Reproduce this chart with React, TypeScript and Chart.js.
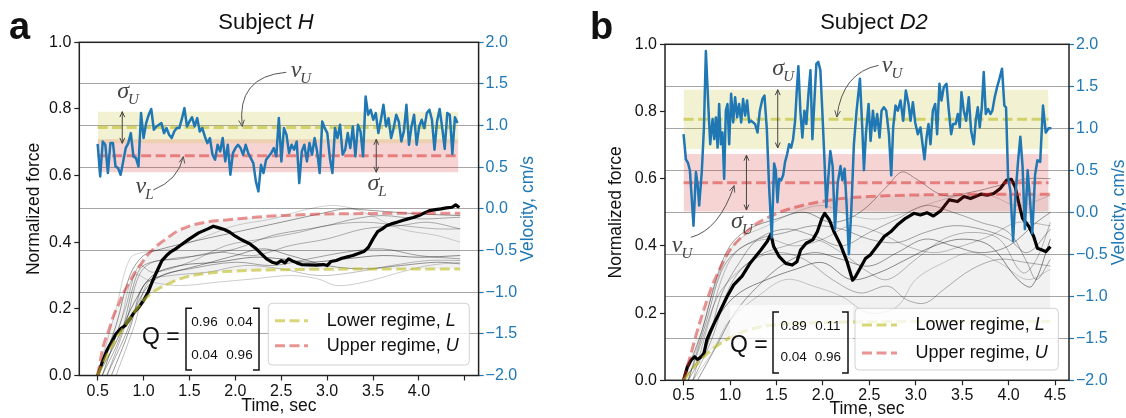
import React, { useEffect, useRef } from 'react';
import { Chart, registerables } from 'chart.js';

Chart.register(...registerables);

const FONT = '"Liberation Sans", Arial, Helvetica, sans-serif';
const SERIF = '"Liberation Serif", "DejaVu Serif", serif';
const BLUE = '#1f77b4';
const OLIVE_LINE = 'rgba(188,189,34,0.6)';
const OLIVE_BAND = 'rgba(188,189,34,0.2)';
const RED_LINE = 'rgba(214,39,40,0.5)';
const RED_BAND = 'rgba(214,39,40,0.2)';
const GREY_FILL = 'rgba(0,0,0,0.055)';

// ---------------- ticks ----------------
const timeTicks = [0.5, 1.0, 1.5, 2.0, 2.5, 3.0, 3.5, 4.0, 4.5];
const timeTickLabelsA = ['0.5', '1.0', '1.5', '2.0', '2.5', '3.0', '3.5', '4.0', ''];
const timeTickLabelsB = ['0.5', '1.0', '1.5', '2.0', '2.5', '3.0', '3.5', '4.0', '4.5'];
const forceTicks = [0, 0.2, 0.4, 0.6, 0.8, 1.0];
const forceTickLabels = ['0.0', '0.2', '0.4', '0.6', '0.8', '1.0'];
const velTicks = [-2, -1.5, -1, -0.5, 0, 0.5, 1, 1.5, 2];
const velTickLabels = ['\u22122.0', '\u22121.5', '\u22121.0', '\u22120.5', '0.0', '0.5', '1.0', '1.5', '2.0'];

// ---------------- text ----------------
const titlesText = ['Subject ', 'Subject '];
const titlesItalic = ['H', 'D2'];
const panelLetters = ['a', 'b'];
const legendLabels = ['Lower regime, ', 'Upper regime, '];
const legendItalic = ['L', 'U'];
const qMatrixA = [['0.96', '0.04'], ['0.04', '0.96']];
const qMatrixB = [['0.89', '0.11'], ['0.04', '0.96']];

// ---------------- panel a : Subject H ----------------
const bandSpanA = [0.5, 4.43];
const oliveVelA = [0.977, 0.19]; // mean, sigma (cm/s)
const redVelA = [0.637, 0.198];
const velStartA = 0.5;
const velStepA = 0.0278;
const velocityA = [
  0.78, 0.39, 0.81, 0.77, 0.43, 0.79, 0.79, 0.51, 0.49, 0.41,
  0.57, 0.73, 0.79, 0.91, 0.63, 0.61, 0.51, 1.15, 0.85, 1.03,
  1.13, 1.20, 0.95, 0.99, 1.01, 1.03, 0.91, 0.97, 0.89, 0.85,
  0.93, 0.97, 0.97, 1.08, 1.21, 0.99, 1.05, 1.10, 0.99, 1.09,
  0.93, 0.97, 0.87, 0.79, 0.85, 0.65, 0.59, 0.77, 0.69, 0.85,
  0.57, 0.77, 0.41, 0.67, 0.73, 0.77, 0.73, 0.65, 0.77, 0.67,
  0.61, 0.55, 0.33, 0.21, 0.53, 0.43, 0.59, 0.63, 0.67, 0.73,
  0.63, 1.09, 0.57, 0.97, 0.89, 0.67, 0.77, 0.71, 0.81, 0.31,
  0.69, 0.77, 0.57, 0.79, 0.65, 0.85, 0.69, 0.43, 1.05, 0.97,
  0.91, 0.61, 0.43, 0.97, 0.85, 1.01, 0.65, 0.71, 0.91, 0.73,
  0.99, 0.63, 1.01, 0.93, 0.63, 1.35, 1.13, 1.19, 1.07, 1.15,
  0.91, 1.07, 1.25, 0.99, 1.09, 0.85, 0.97, 1.13, 1.05, 0.81,
  0.93, 1.25, 0.77, 0.99, 1.13, 0.77, 0.99, 1.07, 0.97, 1.15,
  1.19, 1.07, 0.71, 1.05, 1.20, 0.98, 0.72, 1.15, 1.13, 0.66,
  1.10, 1.03,
];
const upperForceA = [[0.5, 0], [0.56, 0.087], [0.62, 0.135], [0.67, 0.177], [0.73, 0.215], [0.78, 0.247], [0.84, 0.277], [0.89, 0.302], [0.96, 0.33], [1.03, 0.357], [1.1, 0.378], [1.18, 0.397], [1.27, 0.415], [1.36, 0.432], [1.45, 0.443], [1.54, 0.452], [1.7, 0.461], [1.9, 0.467], [2.1, 0.472], [2.3, 0.477], [2.6, 0.481], [3.0, 0.485], [3.4, 0.486], [3.8, 0.487], [4.2, 0.487], [4.45, 0.487]];
const lowerForceA = [[0.5, 0], [0.6, 0.06], [0.7, 0.11], [0.8, 0.15], [0.9, 0.19], [1.0, 0.225], [1.1, 0.25], [1.2, 0.266], [1.3, 0.279], [1.4, 0.29], [1.5, 0.298], [1.7, 0.307], [1.9, 0.312], [2.2, 0.316], [2.6, 0.318], [3.0, 0.319], [4.45, 0.32]];
const blackForceA = [[0.5, 0], [0.55, 0.04], [0.6, 0.075], [0.65, 0.1], [0.7, 0.125], [0.75, 0.14], [0.8, 0.15], [0.85, 0.17], [0.9, 0.19], [0.95, 0.205], [1.0, 0.225], [1.05, 0.25], [1.1, 0.285], [1.15, 0.315], [1.2, 0.345], [1.25, 0.36], [1.3, 0.372], [1.35, 0.38], [1.4, 0.39], [1.5, 0.41], [1.6, 0.428], [1.7, 0.44], [1.76, 0.448], [1.82, 0.443], [1.88, 0.438], [1.94, 0.43], [2.0, 0.418], [2.05, 0.41], [2.1, 0.403], [2.16, 0.395], [2.22, 0.382], [2.28, 0.366], [2.34, 0.35], [2.4, 0.34], [2.45, 0.336], [2.5, 0.345], [2.54, 0.338], [2.58, 0.35], [2.62, 0.344], [2.67, 0.338], [2.72, 0.333], [2.8, 0.332], [2.88, 0.331], [2.96, 0.333], [3.0, 0.33], [3.04, 0.342], [3.1, 0.345], [3.16, 0.352], [3.22, 0.356], [3.28, 0.36], [3.34, 0.366], [3.4, 0.372], [3.45, 0.385], [3.5, 0.41], [3.55, 0.432], [3.6, 0.44], [3.65, 0.45], [3.7, 0.455], [3.76, 0.46], [3.82, 0.465], [3.88, 0.47], [3.94, 0.474], [4.0, 0.48], [4.06, 0.488], [4.12, 0.495], [4.18, 0.498], [4.24, 0.5], [4.3, 0.503], [4.36, 0.505], [4.4, 0.512], [4.44, 0.504]];
const greyTracesA = [
  [[0.5, 0], [0.7, 0.15], [0.85, 0.3], [1.0, 0.36], [1.2, 0.38], [1.5, 0.4], [2.0, 0.43], [2.5, 0.46], [3.0, 0.49], [3.2, 0.5], [3.5, 0.495], [4.0, 0.485], [4.45, 0.48]],
  [[0.55, 0], [0.75, 0.12], [0.9, 0.28], [1.0, 0.33], [1.3, 0.35], [1.6, 0.36], [2.0, 0.38], [2.4, 0.42], [2.8, 0.44], [3.0, 0.45], [3.3, 0.47], [3.6, 0.48], [4.0, 0.47], [4.45, 0.475]],
  [[0.6, 0], [0.8, 0.15], [0.95, 0.3], [1.1, 0.34], [1.4, 0.35], [1.8, 0.37], [2.2, 0.36], [2.6, 0.39], [3.0, 0.41], [3.4, 0.44], [3.8, 0.45], [4.1, 0.46], [4.45, 0.44]],
  [[0.5, 0], [0.7, 0.1], [0.9, 0.22], [1.1, 0.3], [1.4, 0.33], [1.8, 0.34], [2.2, 0.355], [2.5, 0.35], [2.8, 0.34], [3.2, 0.35], [3.6, 0.36], [4.0, 0.355], [4.45, 0.36]],
  [[0.6, 0], [0.8, 0.12], [1.0, 0.25], [1.2, 0.3], [1.5, 0.32], [2.0, 0.34], [2.4, 0.33], [2.8, 0.35], [3.2, 0.37], [3.6, 0.38], [4.0, 0.36], [4.45, 0.35]],
  [[0.55, 0], [0.75, 0.16], [0.9, 0.3], [1.1, 0.28], [1.4, 0.27], [1.8, 0.28], [2.2, 0.29], [2.6, 0.3], [2.9, 0.29], [3.1, 0.27], [3.4, 0.28], [3.8, 0.31], [4.1, 0.33], [4.45, 0.34]],
  [[0.5, 0], [0.7, 0.2], [0.85, 0.35], [1.0, 0.37], [1.3, 0.38], [1.7, 0.42], [2.0, 0.45], [2.4, 0.47], [2.8, 0.5], [3.1, 0.51], [3.4, 0.49], [3.8, 0.44], [4.2, 0.42], [4.45, 0.4]],
  [[0.65, 0], [0.85, 0.14], [1.0, 0.27], [1.2, 0.3], [1.6, 0.33], [2.0, 0.36], [2.3, 0.38], [2.6, 0.36], [3.0, 0.33], [3.4, 0.32], [3.8, 0.33], [4.2, 0.34], [4.45, 0.335]],
  [[0.55, 0], [0.8, 0.2], [0.95, 0.33], [1.1, 0.31], [1.5, 0.34], [1.9, 0.39], [2.3, 0.41], [2.7, 0.43], [3.0, 0.45], [3.4, 0.46], [3.8, 0.45], [4.2, 0.44], [4.45, 0.44]],
  [[0.7, 0], [0.9, 0.15], [1.05, 0.28], [1.3, 0.3], [1.7, 0.31], [2.1, 0.33], [2.5, 0.32], [2.9, 0.3], [3.3, 0.31], [3.7, 0.33], [4.1, 0.345], [4.45, 0.345]],
];

// ---------------- panel b : Subject D2 ----------------
const bandSpanB = [0.5, 4.43];
const oliveVelB = [1.107, 0.353];
const redVelB = [0.352, 0.343];
const velTimeB = [
  0.5, 0.525, 0.547, 0.568, 0.607, 0.633, 0.65, 0.668, 0.697, 0.719,
  0.74, 0.769, 0.787, 0.812, 0.83, 0.848, 0.866, 0.883, 0.901, 0.919,
  0.937, 0.955, 0.973, 0.991, 1.012, 1.034, 1.055, 1.077, 1.098, 1.12,
  1.141, 1.163, 1.184, 1.206, 1.227, 1.249, 1.27, 1.296, 1.321, 1.349,
  1.371, 1.396, 1.421, 1.45, 1.475, 1.493, 1.511, 1.529, 1.55, 1.572,
  1.593, 1.615, 1.636, 1.658, 1.679, 1.701, 1.719, 1.736, 1.758, 1.779,
  1.801, 1.822, 1.844, 1.866, 1.887, 1.908, 1.93, 1.951, 1.973, 1.994,
  2.016, 2.037, 2.059, 2.08, 2.105, 2.13, 2.16, 2.19, 2.21, 2.234,
  2.255, 2.28, 2.306, 2.334, 2.363, 2.399, 2.424, 2.442, 2.463, 2.492,
  2.514, 2.539, 2.56, 2.585, 2.61, 2.632, 2.657, 2.682, 2.711, 2.736,
  2.757, 2.782, 2.807, 2.836, 2.865, 2.893, 2.922, 2.944, 2.969, 2.994,
  3.022, 3.051, 3.073, 3.094, 3.116, 3.137, 3.159, 3.184, 3.209, 3.23,
  3.255, 3.277, 3.302, 3.331, 3.356, 3.381, 3.402, 3.428, 3.453, 3.474,
  3.492, 3.517, 3.542, 3.571, 3.596, 3.625, 3.646, 3.668, 3.689, 3.711,
  3.732, 3.754, 3.779, 3.804, 3.825, 3.85, 3.876, 3.901, 3.929, 3.954,
  3.972, 3.994, 4.019, 4.048, 4.073, 4.101, 4.126, 4.15, 4.175, 4.205,
  4.23, 4.255, 4.285, 4.31, 4.34, 4.37, 4.4, 4.43, 4.46,
];
const velocityB = [
  0.93, 0.63, 0.59, 0.50, -0.16, 0.48, 0.34, 0.08, 0.50, 1.00,
  1.92, 1.21, 0.81, 1.11, 0.87, 1.13, 0.77, 1.29, 0.81, 0.95,
  0.40, 1.21, 1.29, 0.81, 1.41, 1.07, 1.37, 1.13, 1.29, 1.07,
  1.35, 1.15, 1.33, 1.07, 1.09, 1.07, 1.05, 0.95, 1.21, 1.35,
  1.39, 1.00, 0.30, -0.30, 0.58, 0.50, 0.12, 0.40, 0.38, 0.44,
  0.60, 0.69, 0.81, 0.77, 0.87, 1.09, 1.45, 1.74, 1.20, 0.89,
  1.21, 1.05, 1.40, 1.69, 0.87, 1.31, 1.77, 1.79, 1.69, 1.20,
  0.65, 0.06, 0.42, 0.73, 0.55, -0.20, 0.35, 0.55, 0.38, 0.52,
  0.10, -0.50, 0.02, 0.81, 1.21, 1.59, 1.01, 0.50, 0.93, 1.29,
  0.85, 1.21, 0.97, 1.17, 0.89, 1.21, 1.25, 1.21, 0.93, 0.44,
  1.01, 1.27, 1.21, 1.33, 1.09, 1.45, 1.29, 1.09, 1.31, 1.07,
  0.93, 1.01, 0.81, 0.63, 0.89, 1.05, 0.81, 1.21, 1.29, 0.93,
  1.53, 1.33, 1.49, 1.53, 1.21, 0.93, 1.05, 1.05, 1.17, 1.01,
  1.43, 1.21, 1.09, 1.37, 0.97, 0.81, 1.09, 1.25, 1.01, 1.25,
  1.67, 1.17, 1.23, 1.17, 1.21, 1.37, 1.49, 1.59, 1.71, 1.27,
  1.25, 0.42, 0.25, -0.34, 0.20, 0.60, 0.90, 0.55, -0.20, 0.50,
  0.15, -0.25, 0.45, 0.62, 0.60, 1.27, 0.95, 1.00, 1.00,
];
const upperForceB = [[0.5, 0], [0.55, 0.05], [0.6, 0.1], [0.65, 0.15], [0.7, 0.195], [0.76, 0.245], [0.82, 0.29], [0.87, 0.32], [0.93, 0.355], [0.98, 0.38], [1.05, 0.405], [1.12, 0.425], [1.2, 0.447], [1.28, 0.465], [1.36, 0.478], [1.45, 0.49], [1.55, 0.502], [1.7, 0.515], [1.85, 0.525], [2.0, 0.533], [2.2, 0.541], [2.5, 0.547], [2.9, 0.551], [3.4, 0.553], [3.9, 0.554], [4.45, 0.554]];
const lowerForceB = [[0.5, 0], [0.6, 0.035], [0.7, 0.065], [0.8, 0.09], [0.9, 0.11], [1.0, 0.127], [1.1, 0.14], [1.2, 0.15], [1.35, 0.16], [1.5, 0.165], [1.7, 0.169], [2.0, 0.172], [2.5, 0.174], [3.0, 0.175], [4.45, 0.175]];
const blackForceB = [[0.5, 0], [0.54, 0.04], [0.58, 0.06], [0.62, 0.07], [0.65, 0.062], [0.69, 0.07], [0.72, 0.08], [0.75, 0.12], [0.78, 0.14], [0.83, 0.17], [0.9, 0.21], [0.97, 0.25], [1.04, 0.284], [1.13, 0.31], [1.22, 0.35], [1.33, 0.387], [1.4, 0.413], [1.44, 0.435], [1.47, 0.398], [1.53, 0.368], [1.6, 0.348], [1.67, 0.343], [1.72, 0.353], [1.76, 0.388], [1.82, 0.408], [1.89, 0.418], [1.94, 0.442], [1.99, 0.482], [2.02, 0.497], [2.07, 0.477], [2.12, 0.442], [2.19, 0.403], [2.26, 0.353], [2.32, 0.298], [2.35, 0.308], [2.41, 0.338], [2.46, 0.363], [2.51, 0.373], [2.58, 0.398], [2.66, 0.428], [2.73, 0.442], [2.8, 0.462], [2.89, 0.482], [2.98, 0.497], [3.05, 0.492], [3.12, 0.499], [3.19, 0.489], [3.27, 0.505], [3.36, 0.537], [3.45, 0.532], [3.52, 0.547], [3.59, 0.541], [3.7, 0.554], [3.77, 0.551], [3.84, 0.556], [3.91, 0.571], [3.98, 0.596], [4.03, 0.598], [4.07, 0.576], [4.11, 0.527], [4.15, 0.482], [4.22, 0.457], [4.27, 0.428], [4.31, 0.393], [4.36, 0.388], [4.4, 0.383], [4.45, 0.398]];
const greyTracesB = [
  [[0.5, 0], [0.7, 0.15], [0.85, 0.3], [1.0, 0.4], [1.2, 0.45], [1.5, 0.48], [1.8, 0.5], [2.1, 0.47], [2.4, 0.5], [2.7, 0.58], [2.85, 0.62], [3.0, 0.6], [3.3, 0.55], [3.6, 0.56], [3.9, 0.58], [4.2, 0.6], [4.45, 0.6]],
  [[0.55, 0], [0.75, 0.1], [0.9, 0.25], [1.1, 0.35], [1.3, 0.42], [1.6, 0.45], [1.9, 0.43], [2.2, 0.4], [2.5, 0.44], [2.8, 0.48], [3.1, 0.52], [3.4, 0.5], [3.7, 0.47], [4.0, 0.44], [4.2, 0.35], [4.3, 0.3], [4.45, 0.36]],
  [[0.6, 0], [0.8, 0.12], [1.0, 0.28], [1.2, 0.35], [1.5, 0.38], [1.8, 0.36], [2.1, 0.3], [2.4, 0.26], [2.7, 0.28], [2.9, 0.24], [3.1, 0.23], [3.3, 0.27], [3.6, 0.33], [3.9, 0.36], [4.2, 0.35], [4.45, 0.34]],
  [[0.5, 0], [0.7, 0.08], [0.9, 0.2], [1.1, 0.26], [1.4, 0.3], [1.7, 0.33], [2.0, 0.35], [2.3, 0.3], [2.6, 0.32], [2.9, 0.36], [3.2, 0.4], [3.5, 0.42], [3.8, 0.4], [4.1, 0.3], [4.25, 0.28], [4.45, 0.42]],
  [[0.55, 0], [0.75, 0.18], [0.9, 0.32], [1.05, 0.38], [1.3, 0.42], [1.6, 0.44], [1.9, 0.46], [2.2, 0.45], [2.5, 0.42], [2.8, 0.41], [3.1, 0.44], [3.4, 0.46], [3.7, 0.45], [4.0, 0.42], [4.2, 0.38], [4.45, 0.45]],
  [[0.6, 0], [0.8, 0.08], [1.0, 0.18], [1.3, 0.25], [1.6, 0.3], [1.9, 0.28], [2.2, 0.25], [2.5, 0.2], [2.8, 0.22], [3.0, 0.3], [3.3, 0.35], [3.6, 0.38], [3.9, 0.35], [4.2, 0.3], [4.45, 0.33]],
  [[0.5, 0], [0.65, 0.1], [0.8, 0.25], [0.95, 0.36], [1.1, 0.42], [1.4, 0.46], [1.7, 0.5], [2.0, 0.52], [2.3, 0.49], [2.6, 0.48], [2.9, 0.5], [3.2, 0.53], [3.5, 0.55], [3.8, 0.55], [4.1, 0.52], [4.45, 0.55]],
  [[0.65, 0], [0.85, 0.1], [1.05, 0.2], [1.3, 0.28], [1.6, 0.35], [1.9, 0.38], [2.2, 0.36], [2.5, 0.34], [2.8, 0.38], [3.1, 0.42], [3.4, 0.4], [3.7, 0.38], [4.0, 0.4], [4.3, 0.47], [4.45, 0.5]],
  [[0.55, 0], [0.7, 0.12], [0.85, 0.24], [1.0, 0.3], [1.3, 0.37], [1.6, 0.4], [1.9, 0.42], [2.2, 0.38], [2.5, 0.32], [2.7, 0.3], [3.0, 0.36], [3.3, 0.42], [3.6, 0.44], [3.9, 0.42], [4.15, 0.32], [4.3, 0.36], [4.45, 0.47]],
  [[0.6, 0], [0.8, 0.2], [0.95, 0.33], [1.1, 0.39], [1.4, 0.42], [1.7, 0.4], [2.0, 0.42], [2.3, 0.46], [2.6, 0.44], [2.9, 0.4], [3.2, 0.38], [3.5, 0.4], [3.8, 0.43], [4.1, 0.47], [4.45, 0.46]],
];

// ---------------- styles / layout (not data) ----------------
const greyAlphas = [0.4, 0.33, 0.3, 0.45, 0.35, 0.2, 0.18, 0.4, 0.28, 0.25];

type Note =
  | { kind: 'text'; t: number; v: number; main: string; sub: string }
  | { kind: 'double'; t: number; v0: number; v1: number }
  | { kind: 'curve'; from: number[]; ctrl: number[]; to: number[] };

const notesA: Note[] = [
  { kind: 'text', t: 0.837, v: 1.365, main: '\u03c3', sub: 'U' },
  { kind: 'double', t: 0.768, v0: 1.167, v1: 0.787 },
  { kind: 'text', t: 2.72, v: 1.615, main: '\u03bd', sub: 'U' },
  { kind: 'curve', from: [2.555, 1.64], ctrl: [2.01, 1.59], to: [2.075, 0.99] },
  { kind: 'text', t: 1.017, v: 0.227, main: '\u03bd', sub: 'L' },
  { kind: 'curve', from: [1.106, 0.227], ctrl: [1.379, 0.347], to: [1.433, 0.627] },
  { kind: 'text', t: 3.55, v: 0.257, main: '\u03c3', sub: 'L' },
  { kind: 'double', t: 3.535, v0: 0.835, v1: 0.44 },
];
const notesB: Note[] = [
  { kind: 'text', t: 1.578, v: 1.676, main: '\u03c3', sub: 'U' },
  { kind: 'double', t: 1.514, v0: 1.46, v1: 0.766 },
  { kind: 'text', t: 2.75, v: 1.71, main: '\u03bd', sub: 'U' },
  { kind: 'curve', from: [2.6, 1.75], ctrl: [2.21, 1.664], to: [2.15, 1.134] },
  { kind: 'double', t: 1.177, v0: 0.68, v1: 0.027 },
  { kind: 'text', t: 1.134, v: -0.157, main: '\u03c3', sub: 'U' },
  { kind: 'text', t: 0.489, v: -0.437, main: '\u03bd', sub: 'U' },
  { kind: 'curve', from: [0.578, -0.298], ctrl: [0.883, -0.21], to: [1.044, 0.317] },
];

interface PanelSpec {
  W: number; H: number; left: number; right: number; top: number; bottom: number;
  leftTitleCenter: number; bottomTitlePad: number; rightTitleX: number;
  tickLabels: string[];
  bandSpan: number[]; oliveVel: number[]; redVel: number[];
  velocity: { x: number; y: number }[];
  upperForce: number[][]; lowerForce: number[][]; blackForce: number[][]; greyTraces: number[][][];
  notes: Note[];
  legend: { box: number[]; lineX: number[]; rows: number[]; textX: number };
  q: { qx: number; qy: number; bracket: number[]; cols: number[]; rows: number[]; vals: string[][] };
  whiteBox?: number[];
}

const pairs = (arr: number[][]) => arr.map(([x, y]) => ({ x, y }));

function head(ctx: CanvasRenderingContext2D, x: number, y: number, ang: number, size = 7) {
  ctx.beginPath();
  ctx.moveTo(x - size * Math.cos(ang - 0.42), y - size * Math.sin(ang - 0.42));
  ctx.lineTo(x, y);
  ctx.lineTo(x - size * Math.cos(ang + 0.42), y - size * Math.sin(ang + 0.42));
  ctx.stroke();
}

function drawSym(ctx: CanvasRenderingContext2D, x: number, y: number, main: string, sub: string) {
  ctx.fillStyle = '#444';
  ctx.textBaseline = 'alphabetic';
  ctx.textAlign = 'left';
  ctx.font = `italic 24px ${SERIF}`;
  const w1 = ctx.measureText(main).width;
  ctx.font = `italic 15px ${SERIF}`;
  const w2 = ctx.measureText(sub).width;
  const x0 = x - (w1 + w2) / 2;
  ctx.font = `italic 24px ${SERIF}`;
  ctx.fillText(main, x0, y + 3);
  ctx.font = `italic 15px ${SERIF}`;
  ctx.fillText(sub, x0 + w1 - 1, y + 9);
}

function makeDecor(spec: PanelSpec, id: string) {
  return {
    id: 'decor' + id,
    afterDatasetsDraw(chart: any) {
      const ctx: CanvasRenderingContext2D = chart.ctx;
      const { left, right, top, bottom } = chart.chartArea;
      const xs = chart.scales.x;
      const ys = chart.scales.y1;
      const X = (t: number) => xs.getPixelForValue(t);
      const Y = (v: number) => ys.getPixelForValue(v);
      ctx.save();
      if (spec.whiteBox) {
        const [a, b, c, d] = spec.whiteBox;
        ctx.fillStyle = 'rgba(255,255,255,0.7)';
        ctx.fillRect(a, b, c - a, d - b);
      }
      // annotations
      ctx.strokeStyle = '#555';
      ctx.lineWidth = 1;
      for (const n of spec.notes) {
        if (n.kind === 'text') {
          drawSym(ctx, X(n.t), Y(n.v), n.main, n.sub);
        } else if (n.kind === 'double') {
          const x = X(n.t), y0 = Y(n.v0), y1 = Y(n.v1);
          ctx.strokeStyle = '#444';
          ctx.beginPath(); ctx.moveTo(x, y0); ctx.lineTo(x, y1); ctx.stroke();
          head(ctx, x, y0, -Math.PI / 2, 6);
          head(ctx, x, y1, Math.PI / 2, 6);
        } else {
          const x0 = X(n.from[0]), y0 = Y(n.from[1]);
          const cx = X(n.ctrl[0]), cy = Y(n.ctrl[1]);
          const x1 = X(n.to[0]), y1 = Y(n.to[1]);
          ctx.strokeStyle = '#555';
          ctx.beginPath(); ctx.moveTo(x0, y0); ctx.quadraticCurveTo(cx, cy, x1, y1); ctx.stroke();
          head(ctx, x1, y1, Math.atan2(y1 - cy, x1 - cx), 7);
        }
      }
      // Q matrix
      const q = spec.q;
      ctx.fillStyle = '#111';
      ctx.textBaseline = 'middle';
      ctx.textAlign = 'left';
      ctx.font = `23px ${FONT}`;
      ctx.fillText('Q =', q.qx, q.qy);
      const [bl, br, bt, bb] = q.bracket;
      ctx.strokeStyle = '#111';
      ctx.lineWidth = 1.5;
      ctx.beginPath();
      ctx.moveTo(bl + 6, bt); ctx.lineTo(bl, bt); ctx.lineTo(bl, bb); ctx.lineTo(bl + 6, bb);
      ctx.moveTo(br - 6, bt); ctx.lineTo(br, bt); ctx.lineTo(br, bb); ctx.lineTo(br - 6, bb);
      ctx.stroke();
      ctx.font = `13.5px ${FONT}`;
      ctx.textAlign = 'center';
      for (let r = 0; r < 2; r++) for (let c = 0; c < 2; c++) ctx.fillText(q.vals[r][c], q.cols[c], q.rows[r]);
      // legend
      const lg = spec.legend;
      const [lx0, ly0, lx1, ly1] = lg.box;
      ctx.beginPath();
      (ctx as any).roundRect(lx0, ly0, lx1 - lx0, ly1 - ly0, 4);
      ctx.fillStyle = 'rgba(255,255,255,0.8)';
      ctx.fill();
      ctx.strokeStyle = 'rgba(204,204,204,0.9)';
      ctx.lineWidth = 1;
      ctx.stroke();
      const lineCols = [OLIVE_LINE, RED_LINE];
      for (let i = 0; i < 2; i++) {
        ctx.save();
        ctx.strokeStyle = lineCols[i];
        ctx.lineWidth = 3;
        ctx.setLineDash([10, 4.5]);
        ctx.beginPath(); ctx.moveTo(lg.lineX[0], lg.rows[i]); ctx.lineTo(lg.lineX[1], lg.rows[i]); ctx.stroke();
        ctx.restore();
        ctx.fillStyle = '#111';
        ctx.textAlign = 'left';
        ctx.textBaseline = 'middle';
        ctx.font = `18px ${FONT}`;
        ctx.fillText(legendLabels[i], lg.textX, lg.rows[i]);
        const w = ctx.measureText(legendLabels[i]).width;
        ctx.font = `italic 18px ${FONT}`;
        ctx.fillText(legendItalic[i], lg.textX + w, lg.rows[i]);
      }
      // frame
      ctx.strokeStyle = '#222';
      ctx.lineWidth = 1.5;
      ctx.strokeRect(left, top, right - left, bottom - top);
      // right axis title
      ctx.save();
      ctx.translate(spec.rightTitleX, (top + bottom) / 2);
      ctx.rotate(-Math.PI / 2);
      ctx.fillStyle = BLUE;
      ctx.font = `17.5px ${FONT}`;
      ctx.textAlign = 'center';
      ctx.textBaseline = 'middle';
      ctx.fillText('Velocity, cm/s', 0, 0);
      ctx.restore();
      ctx.restore();
    },
  };
}

function makeConfig(spec: PanelSpec, id: string): any {
  const mono = { cubicInterpolationMode: 'monotone' };
  const datasets: any[] = [];
  // grey envelope between the two regime force curves
  datasets.push({ data: pairs(spec.upperForce), yAxisID: 'y', borderWidth: 0, borderColor: 'rgba(0,0,0,0)', fill: false, order: 100, ...mono });
  datasets.push({ data: pairs(spec.lowerForce), yAxisID: 'y', borderWidth: 0, borderColor: 'rgba(0,0,0,0)', fill: '-1', backgroundColor: GREY_FILL, order: 100, ...mono });
  spec.greyTraces.forEach((tr, i) => {
    datasets.push({ data: pairs(tr), yAxisID: 'y', borderColor: `rgba(0,0,0,${greyAlphas[i % greyAlphas.length]})`, borderWidth: 1, tension: 0.35, order: 90 });
  });
  datasets.push({ data: pairs(spec.blackForce), yAxisID: 'y', borderColor: '#000', borderWidth: 3.2, borderJoinStyle: 'round', order: 70 });
  datasets.push({ data: pairs(spec.lowerForce), yAxisID: 'y', borderColor: OLIVE_LINE, borderWidth: 3, borderDash: [10, 4.5], order: 60, ...mono });
  datasets.push({ data: pairs(spec.upperForce), yAxisID: 'y', borderColor: RED_LINE, borderWidth: 3, borderDash: [10, 4.5], order: 60, ...mono });
  const band = (mv: number[], color: string) => ({
    data: [{ x: spec.bandSpan[0], y: mv[0] + mv[1] }, { x: spec.bandSpan[1], y: mv[0] + mv[1] }],
    yAxisID: 'y1', borderWidth: 0, borderColor: 'rgba(0,0,0,0)', fill: { value: mv[0] - mv[1] }, backgroundColor: color, order: 50,
  });
  datasets.push(band(spec.oliveVel, OLIVE_BAND));
  datasets.push(band(spec.redVel, RED_BAND));
  const meanLine = (mv: number[], color: string) => ({
    data: [{ x: spec.bandSpan[0], y: mv[0] }, { x: spec.bandSpan[1], y: mv[0] }],
    yAxisID: 'y1', borderColor: color, borderWidth: 3, borderDash: [10, 4.5], order: 40,
  });
  datasets.push(meanLine(spec.oliveVel, OLIVE_LINE));
  datasets.push(meanLine(spec.redVel, RED_LINE));
  datasets.push({ data: spec.velocity, yAxisID: 'y1', borderColor: BLUE, borderWidth: 2.5, borderJoinStyle: 'round', order: 30 });

  const tickFont = { family: FONT, size: 16 };
  const titleFont = { family: FONT, size: 17.5, lineHeight: 1 };
  return {
    type: 'line',
    data: { datasets },
    options: {
      responsive: false,
      animation: false,
      devicePixelRatio: 1,
      events: [],
      elements: { point: { radius: 0, hoverRadius: 0 }, line: { tension: 0 } },
      layout: { padding: { top: spec.top, left: 0, right: 0, bottom: 0 } },
      plugins: { legend: { display: false }, tooltip: { enabled: false }, title: { display: false } },
      scales: {
        x: {
          type: 'linear', min: 0.3, max: 4.65,
          afterBuildTicks: (s: any) => { s.ticks = timeTicks.map((v) => ({ value: v })); },
          afterFit: (s: any) => { s.height = spec.H - spec.bottom; },
          ticks: { font: tickFont, color: '#111', padding: 1, maxRotation: 0, autoSkip: false,
            callback: (v: number) => spec.tickLabels[timeTicks.indexOf(v)] ?? '' },
          grid: { drawOnChartArea: false, tickLength: 5, tickColor: '#222', tickWidth: 1.2 },
          border: { display: false },
          title: { display: true, text: 'Time, sec', color: '#111', font: titleFont, padding: { top: 0, bottom: spec.bottomTitlePad } },
        },
        y: {
          position: 'left', min: 0, max: 1,
          afterBuildTicks: (s: any) => { s.ticks = forceTicks.map((v) => ({ value: v })); },
          afterFit: (s: any) => { s.width = spec.left; },
          ticks: { font: tickFont, color: '#111', padding: 3,
            callback: (v: number) => forceTickLabels[forceTicks.indexOf(v)] ?? '' },
          grid: { drawOnChartArea: false, tickLength: 5, tickColor: '#222', tickWidth: 1.2 },
          border: { display: false },
          title: { display: true, text: 'Normalized force', color: '#111', font: titleFont, padding: { top: spec.leftTitleCenter - 8.75, bottom: 0 } },
        },
        y1: {
          position: 'right', min: -2, max: 2,
          afterBuildTicks: (s: any) => { s.ticks = velTicks.map((v) => ({ value: v })); },
          afterFit: (s: any) => { s.width = spec.W - spec.right; },
          ticks: { font: tickFont, color: BLUE, padding: 2,
            callback: (v: number) => velTickLabels[velTicks.indexOf(v)] ?? '' },
          grid: { drawOnChartArea: true, color: 'rgba(0,0,0,0.35)', lineWidth: 1, tickLength: 5, tickColor: BLUE, tickWidth: 1.2 },
          border: { display: false },
        },
      },
    },
    plugins: [makeDecor(spec, id)],
  };
}

const specA: PanelSpec = {
  W: 560, H: 418, left: 79.3, right: 478.6, top: 42.3, bottom: 375.5,
  leftTitleCenter: 34, bottomTitlePad: 3.25, rightTitleX: 528.6,
  tickLabels: timeTickLabelsA,
  bandSpan: bandSpanA, oliveVel: oliveVelA, redVel: redVelA,
  velocity: velocityA.map((v, i) => ({ x: velStartA + i * velStepA, y: v })),
  upperForce: upperForceA, lowerForce: lowerForceA, blackForce: blackForceA, greyTraces: greyTracesA,
  notes: notesA,
  legend: { box: [268.3, 303.3, 469.3, 365], lineX: [275, 308], rows: [320.8, 345.8], textX: 326.7 },
  q: { qx: 142, qy: 338, bracket: [186, 259, 308.3, 370], cols: [204.5, 239.5], rows: [322.7, 355], vals: qMatrixA },
};

const specB: PanelSpec = {
  W: 566, H: 418, left: 105, right: 509, top: 44.3, bottom: 380.3,
  leftTitleCenter: 56, bottomTitlePad: 0, rightTitleX: 559.5,
  tickLabels: timeTickLabelsB,
  bandSpan: bandSpanB, oliveVel: oliveVelB, redVel: redVelB,
  velocity: velTimeB.map((t, i) => ({ x: t, y: velocityB[i] })).filter((p) => p.y !== undefined),
  upperForce: upperForceB, lowerForce: lowerForceB, blackForce: blackForceB, greyTraces: greyTracesB,
  notes: notesB,
  legend: { box: [295, 308.3, 498.3, 370], lineX: [302, 337], rows: [325, 353], textX: 355.6 },
  q: { qx: 170, qy: 346, bracket: [213, 288, 312, 373], cols: [233.7, 267.8], rows: [326, 357], vals: qMatrixB },
  whiteBox: [170, 305, 293, 380.3],
};

function ChartPanel({ spec, id, x }: { spec: PanelSpec; id: string; x: number }) {
  const ref = useRef<HTMLCanvasElement | null>(null);
  useEffect(() => {
    if (!ref.current) return;
    const chart = new Chart(ref.current, makeConfig(spec, id));
    return () => chart.destroy();
  }, []);
  return (
    <canvas
      ref={ref}
      width={spec.W}
      height={spec.H}
      style={{ position: 'absolute', left: x, top: 0, width: spec.W, height: spec.H }}
    />
  );
}

export default function App() {
  const titleStyle = (cx: number): React.CSSProperties => ({
    position: 'absolute', left: cx - 150, top: 10, width: 300, textAlign: 'center',
    font: `22px ${FONT}`, lineHeight: '24px', color: '#111', whiteSpace: 'nowrap',
  });
  const letterStyle = (lx: number): React.CSSProperties => ({
    position: 'absolute', left: lx, top: 7, font: `bold 38px ${FONT}`, lineHeight: '38px', color: '#111',
  });
  return (
    <div style={{ position: 'absolute', left: 0, top: 0, width: 1126, height: 418, background: '#fff', overflow: 'hidden' }}>
      <ChartPanel spec={specA} id="a" x={0} />
      <ChartPanel spec={specB} id="b" x={560} />
      <div style={titleStyle(266)}>{titlesText[0]}<i>{titlesItalic[0]}</i></div>
      <div style={titleStyle(874)}>{titlesText[1]}<i>{titlesItalic[1]}</i></div>
      <div style={letterStyle(9)}>{panelLetters[0]}</div>
      <div style={letterStyle(590)}>{panelLetters[1]}</div>
    </div>
  );
}
